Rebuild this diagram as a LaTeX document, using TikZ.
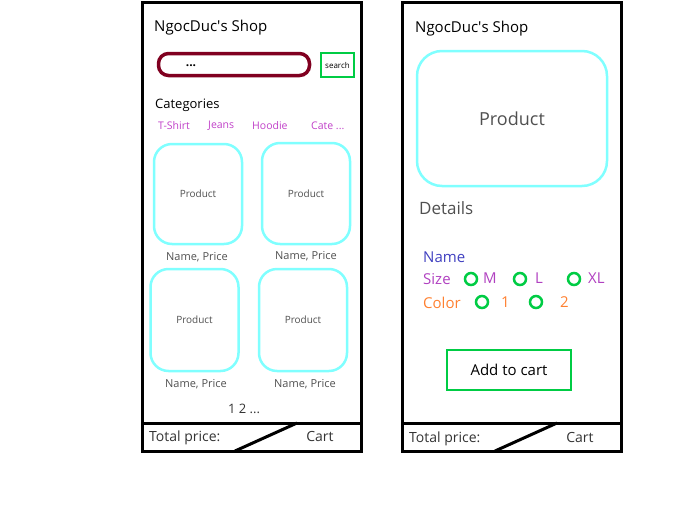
\documentclass[tikz,border=0pt]{standalone}
\usepackage{fontspec}
\setmainfont{Open Sans}
\usepackage{xcolor}
\usetikzlibrary{positioning}

\definecolor{wine}{HTML}{800020}
\definecolor{btngreen}{HTML}{00CC44}
\definecolor{cardcyan}{HTML}{80FFFF}
\definecolor{catpink}{HTML}{C040C8}
\definecolor{namblue}{HTML}{4040C0}
\definecolor{sizepink}{HTML}{B040C0}
\definecolor{colorange}{HTML}{FF8030}
\definecolor{prodgray}{HTML}{505050}
\definecolor{bargray}{HTML}{333333}

\begin{document}
\begin{tikzpicture}[
    x=1pt, y=-1pt,
    phone/.style={draw, line width=3pt},
    txt/.style={inner sep=0pt, anchor=west, font=\fontsize{#1}{#1}\selectfont},
    card/.style={draw=cardcyan, line width=2.5pt, rounded corners=18pt,
        minimum width=88pt, minimum height=100pt, text=prodgray,
        font=\fontsize{10}{12}\selectfont},
    caption/.style={inner sep=0pt, text=prodgray, font=\fontsize{11}{12}\selectfont},
    radio/.style={draw=btngreen, line width=2.5pt, circle, minimum size=12pt, inner sep=0pt},
    btn/.style={draw=btngreen, rectangle, inner sep=0pt}
]
    \useasboundingbox (0,0) rectangle (696,525);

    % Left screen: shop list
    \draw[phone] (142,2) rectangle (361,451);
    \draw[phone] (142,423) -- (361,423);
    \draw[phone] (235,451) -- (297,423);

    \node[txt=15] (title1) at (154,28) {NgocDuc\textquotesingle s Shop};
    \node[draw=wine, line width=3.5pt, rounded corners=10pt, minimum width=151pt,
        minimum height=22pt] (searchbox) at (234,64.5) {};
    \node[inner sep=0pt, font=\fontsize{12}{12}\selectfont\bfseries] (dots) at (191,66) {...};
    \node[btn, line width=2pt, minimum width=33pt, minimum height=24pt,
        font=\fontsize{8}{8}\selectfont] (search) at (337.5,65) {search};

    \node[txt=13] (cats) at (155,105) {Categories};
    \node[txt=10.5, text=catpink] (tshirt) at (158,125.5) {T-Shirt};
    \node[txt=10.5, text=catpink] (jeans) at (208,125.5) {Jeans};
    \node[txt=10.5, text=catpink] (hoodie) at (252,125.5) {Hoodie};
    \node[txt=10.5, text=catpink] (cate) at (311,125.5) {Cate ...};

    \node[card] (prod1) at (198,194) {Product};
    \node[card, minimum height=101pt] (prod2) at (306,193.5) {Product};
    \node[card, minimum height=102pt] (prod3) at (194.5,320) {Product};
    \node[card, minimum height=102pt] (prod4) at (303,320) {Product};

    \node[caption] (cap1) at (197,257) {Name, Price};
    \node[caption] (cap2) at (306,256) {Name, Price};
    \node[caption] (cap3) at (196,384) {Name, Price};
    \node[caption] (cap4) at (305,384) {Name, Price};

    \node[inner sep=0pt, text=bargray, font=\fontsize{13}{13}\selectfont] (pages) at (244,409) {1 2 ...};
    \node[txt=14, text=bargray] (total1) at (149,437.5) {Total price:};
    \node[inner sep=0pt, text=bargray, font=\fontsize{14}{14}\selectfont] (cart1) at (320,436) {Cart};

    % Right screen: product details
    \draw[phone] (402,2) rectangle (621,451);
    \draw[phone] (402,423) -- (621,423);
    \draw[phone] (495,451) -- (557,423);

    \node[txt=15] (title2) at (415,29) {NgocDuc\textquotesingle s Shop};
    \node[card, rounded corners=25pt, minimum width=190pt, minimum height=135pt,
        font=\fontsize{18}{18}\selectfont] (bigprod) at (512,118.5) {Product};
    \node[txt=17, text=prodgray] (details) at (419,208) {Details};

    \node[txt=15, text=namblue] (name) at (423,257) {Name};
    \node[txt=15, text=sizepink] (size) at (423,279) {Size};
    \node[radio] (sm) at (471,279) {};
    \node[txt=15, text=sizepink] (sml) at (483,278.5) {M};
    \node[radio] (sl) at (520,279) {};
    \node[txt=15, text=sizepink] (sll) at (535,278.5) {L};
    \node[radio] (sxl) at (574,279) {};
    \node[txt=15, text=sizepink] (sxll) at (588,278.5) {XL};

    \node[txt=15, text=colorange] (color) at (423,302.5) {Color};
    \node[radio] (c1) at (482,302) {};
    \node[txt=15, text=colorange] (c1l) at (501,302.5) {1};
    \node[radio] (c2) at (536,302) {};
    \node[txt=15, text=colorange] (c2l) at (560,302.5) {2};

    \node[btn, line width=2.5pt, minimum width=124pt, minimum height=40pt,
        font=\fontsize{15}{15}\selectfont] (addcart) at (509,370) {Add to cart};

    \node[txt=14, text=bargray] (total2) at (409,438.5) {Total price:};
    \node[inner sep=0pt, text=bargray, font=\fontsize{14}{14}\selectfont] (cart2) at (580,437) {Cart};
\end{tikzpicture}
\end{document}
